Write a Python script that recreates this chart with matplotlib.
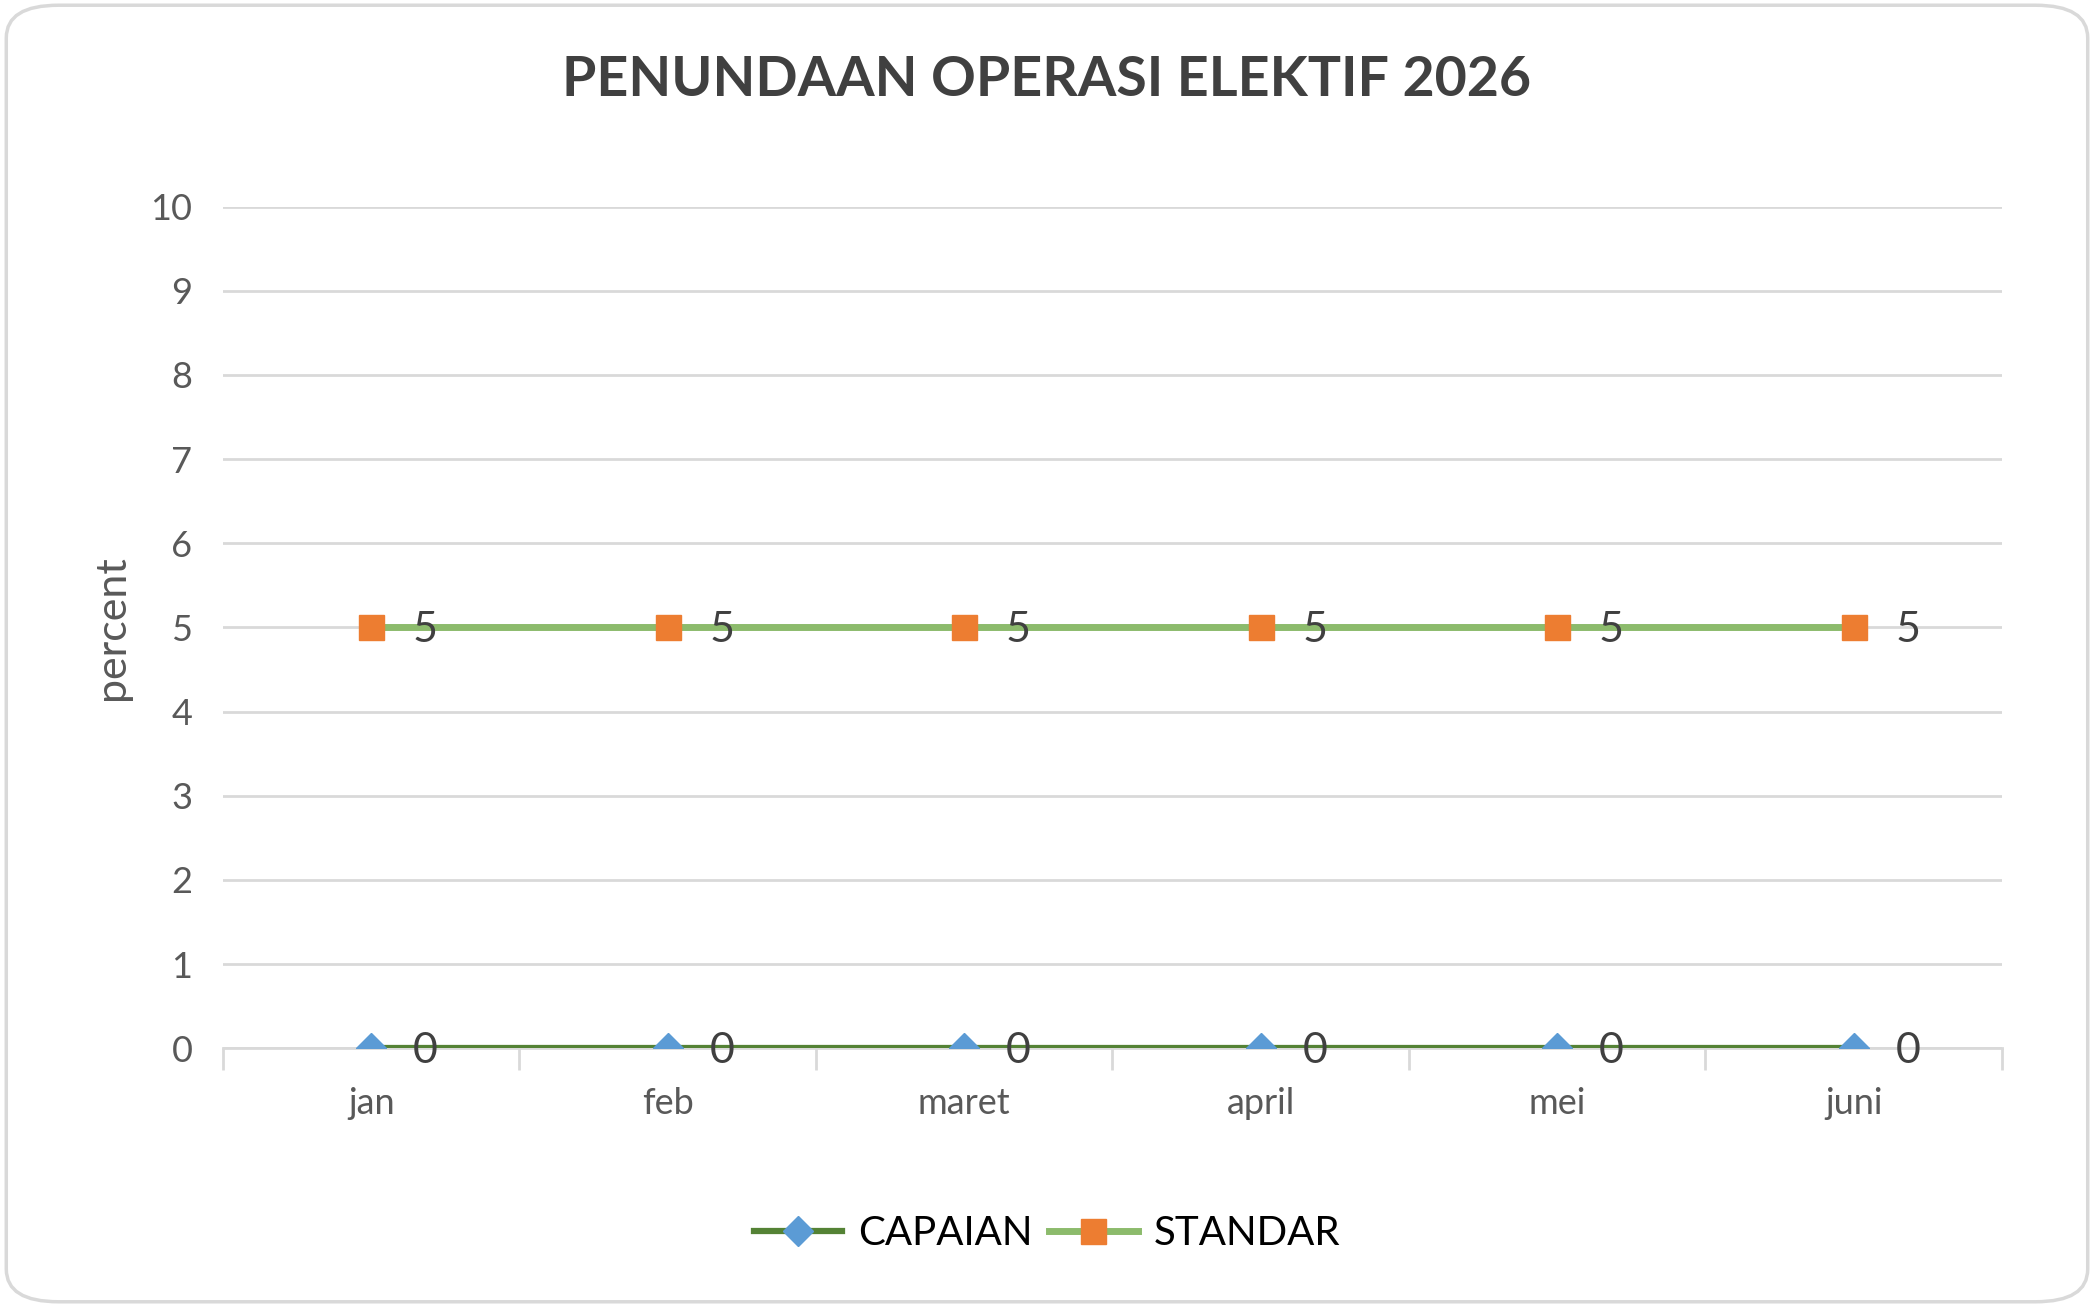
import matplotlib
matplotlib.use('Agg')
import numpy as np
from matplotlib import pyplot as plt
from matplotlib.patches import FancyBboxPatch

bulan = ['jan', 'feb', 'maret', 'april', 'mei', 'juni']
capaian = [0, 0, 0, 0, 0, 0]
standar = [5, 5, 5, 5, 5, 5]

plt.rcParams['font.family'] = ['Lato', 'DejaVu Sans']

fig = plt.figure(figsize=(20.94, 13.07), dpi=100)

# rounded frame around the chart
frame = FancyBboxPatch((0.003, 0.004), 0.994, 0.992,
                       boxstyle='round,pad=0,rounding_size=0.025',
                       transform=fig.transFigure, fill=False,
                       edgecolor='#d9d9d9', linewidth=2.5)
fig.patches.append(frame)

ax = fig.add_axes([0.1065, 0.198, 0.8495, 0.644])
x = np.arange(len(bulan))

ax.plot(x, capaian, color='#548235', lw=4.5, marker='D', ms=15,
        mfc='#5b9bd5', mec='#5b9bd5', label='CAPAIAN', zorder=3)
ax.plot(x, standar, color='#8cbb6c', lw=5, marker='s', ms=18,
        mfc='#ed7d31', mec='#ed7d31', label='STANDAR', zorder=3)

for xi, v in zip(x, capaian):
    ax.annotate(str(v), (xi, v), xytext=(30, -2), textcoords='offset points',
                ha='left', va='center', fontsize=31, color='#404040')
for xi, v in zip(x, standar):
    ax.annotate(str(v), (xi, v), xytext=(30, -2), textcoords='offset points',
                ha='left', va='center', fontsize=31, color='#404040')

ax.set_xlim(-0.5, len(bulan) - 0.5)
ax.set_ylim(0, 10)
ax.set_yticks(range(0, 11))
ax.set_xticks(x)
ax.set_xticklabels(bulan)
ax.set_xticks(np.arange(-0.5, len(bulan)), minor=True)

ax.grid(axis='y', color='#d9d9d9', lw=2)
ax.set_axisbelow(True)
for s in ['top', 'right', 'left']:
    ax.spines[s].set_visible(False)
ax.spines['bottom'].set_color('#d9d9d9')
ax.spines['bottom'].set_linewidth(2)

ax.tick_params(axis='y', length=0, labelsize=26, labelcolor='#595959', pad=22)
ax.tick_params(axis='x', which='major', length=0, labelsize=26,
               labelcolor='#595959', pad=28)
ax.tick_params(axis='x', which='minor', length=16, width=2, color='#d9d9d9')

ax.set_ylabel('percent', fontsize=31, color='#595959', labelpad=14)

fig.suptitle('PENUNDAAN OPERASI ELEKTIF 2026', fontsize=40, fontweight='bold',
             color='#404040', y=0.958)

fig.legend(loc='center', bbox_to_anchor=(0.5, 0.056), ncol=2, frameon=False,
           fontsize=29, handlelength=2.2, columnspacing=0.4, handletextpad=0.4)

fig.savefig('out.png', dpi=100)
